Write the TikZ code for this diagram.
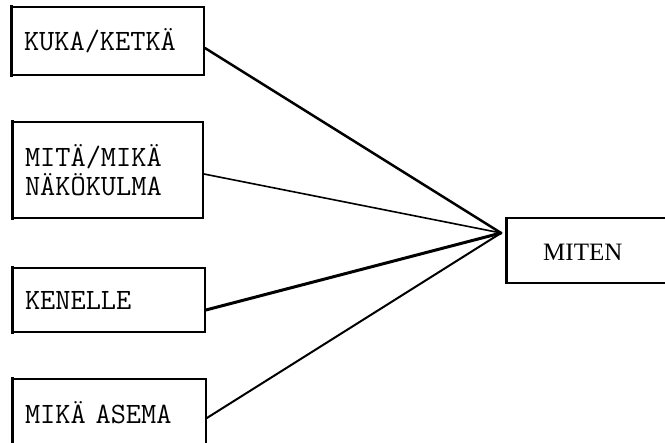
\documentclass[tikz,border=0pt]{standalone}
\usepackage{fontspec}
\newfontfamily\timesf{Liberation Serif}
\begin{document}
\begin{tikzpicture}[x=1pt,y=-1pt,
  box/.style={draw, line width=1.8pt, inner xsep=12pt, inner ysep=0pt, align=left,
    font=\ttfamily\fontsize{29.5}{28.5}\selectfont},
  leftedge/.style={line width=3pt},
  conn/.style={line cap=round}]
\useasboundingbox (0,0) rectangle (665,443);
% left boxes
\node[box, text width=168pt, minimum height=68pt] (a) at (108,41) {KUKA/KETKÄ};
\node[box, text width=166pt, minimum height=96pt] (b) at (108,170) {MITÄ/MIKÄ\\NÄKÖKULMA};
\node[box, text width=168pt, minimum height=64pt] (c) at (109,300) {KENELLE};
\node[box, text width=169pt, minimum height=68pt] (d) at (109.5,413) {MIKÄ ASEMA};
\foreach \n in {a,b,c,d} \draw[leftedge] ([yshift=1pt]\n.north west) -- ([yshift=-1pt]\n.south west);
% right box
\node[draw, line width=1.8pt, minimum width=183pt, minimum height=65pt, inner sep=0pt] (m) at (598.5,250.5) {};
\draw[leftedge] (m.north west) -- (m.south west);
\node[font=\timesf\fontsize{25}{30}\selectfont, anchor=west, inner sep=0pt] (mt) at (543,252.5) {MITEN};
% connectors
\coordinate (hub) at ([xshift=-5pt,yshift=17.5pt]m.west);
\draw[conn, line width=2.5pt] ([yshift=-7pt]a.east) -- (hub);
\draw[conn, line width=1.6pt] ([yshift=-4pt]b.east) -- (hub);
\draw[conn, line width=3pt] ([yshift=-10pt]c.east) -- (hub);
\draw[conn, line width=2pt] ([yshift=-5pt]d.east) -- (hub);
\end{tikzpicture}
\end{document}
